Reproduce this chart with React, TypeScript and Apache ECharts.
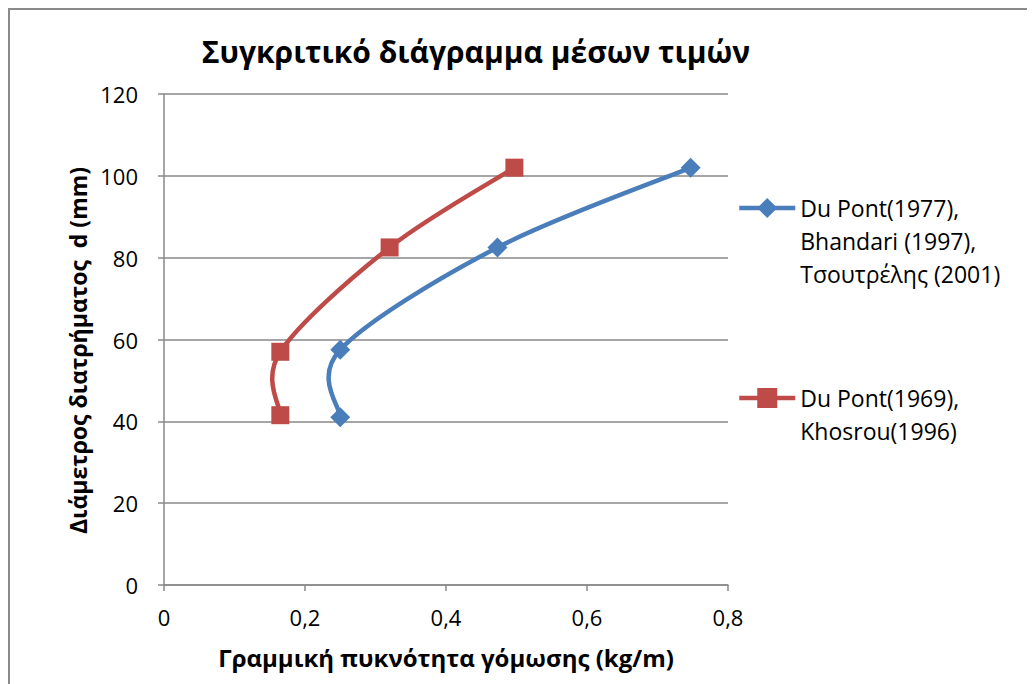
import React, { useEffect, useRef } from "react";
import * as echarts from "echarts";

// Linear charge density (kg/m) against borehole diameter d (mm)
const seriesNames = [
  "Du Pont(1977),\nBhandari (1997),\nΤσουτρέλης (2001)",
  "Du Pont(1969),\nKhosrou(1996)",
];
const blueDensity = [0.25, 0.25, 0.473, 0.747];
const blueDiameter = [41, 57.5, 82.5, 102];
const redDensity = [0.165, 0.165, 0.32, 0.497];
const redDiameter = [41.5, 57, 82.5, 102];

const titleText = "Συγκριτικό διάγραμμα μέσων τιμών";
const xName = "Γραμμική πυκνότητα γόμωσης (kg/m)";
const yName = "Διάμετρος διατρήματος  d (mm)";

const FONT = "'Open Sans', 'Noto Sans', sans-serif";
const BLUE = "#4A7EBB";
const RED = "#BE4B48";
const GRID = "#898989";
const LINE_W = 4.5;

const pairs = (xs: number[], ys: number[]) => xs.map((x, i) => [x, ys[i]]);

// Cardinal (Catmull-Rom) spline through the projected points, drawn as one path.
function splineRenderer(xs: number[], ys: number[], color: string) {
  return (params: any, api: any) => {
    if (params.dataIndex !== 0) return null;
    const pts = xs.map((x, i) => api.coord([x, ys[i]]) as number[]);
    const n = pts.length;
    let d = `M${pts[0][0]},${pts[0][1]}`;
    for (let i = 0; i < n - 1; i++) {
      const p0 = pts[Math.max(i - 1, 0)];
      const p1 = pts[i];
      const p2 = pts[i + 1];
      const p3 = pts[Math.min(i + 2, n - 1)];
      const c1x = p1[0] + (p2[0] - p0[0]) / 6;
      const c1y = p1[1] + (p2[1] - p0[1]) / 6;
      const c2x = p2[0] - (p3[0] - p1[0]) / 6;
      const c2y = p2[1] - (p3[1] - p1[1]) / 6;
      d += ` C${c1x},${c1y} ${c2x},${c2y} ${p2[0]},${p2[1]}`;
    }
    return {
      type: "path",
      shape: { pathData: d },
      style: { stroke: color, lineWidth: LINE_W, fill: "none", lineJoin: "round", lineCap: "round" },
    };
  };
}

const legendText = {
  fontFamily: FONT,
  fontSize: 23,
  color: "#000",
  lineHeight: 33,
};

export default function App() {
  const ref = useRef<HTMLDivElement>(null);

  useEffect(() => {
    if (!ref.current) return;
    const chart = echarts.init(ref.current, undefined, { renderer: "svg" });
    chart.setOption({
      animation: false,
      backgroundColor: "#ffffff",
      title: {
        text: titleText,
        left: 461,
        top: 21,
        textAlign: "center",
        textStyle: { fontFamily: FONT, fontWeight: "bold", fontSize: 30, color: "#000" },
      },
      grid: { left: 154, top: 84, right: 307, bottom: 99 },
      legend: [
        {
          data: [seriesNames[0]],
          orient: "vertical",
          left: 727,
          top: 115.5,
          padding: 0,
          itemWidth: 56,
          itemHeight: 25,
          lineStyle: { color: BLUE, width: LINE_W },
          // two blank lines above keep the first text line level with the icon
          formatter: (name: string) => "\n\n" + name,
          textStyle: legendText,
        },
        {
          data: [seriesNames[1]],
          orient: "vertical",
          left: 727,
          top: 338.5,
          padding: 0,
          itemWidth: 56,
          itemHeight: 25,
          lineStyle: { color: RED, width: LINE_W },
          formatter: (name: string) => "\n" + name,
          textStyle: legendText,
        },
      ],
      xAxis: {
        type: "value",
        min: 0,
        max: 0.8,
        interval: 0.2,
        name: xName,
        nameLocation: "middle",
        nameGap: 60,
        nameTextStyle: { fontFamily: FONT, fontWeight: "bold", fontSize: 24, color: "#000" },
        axisLine: { show: true, lineStyle: { color: GRID, width: 1.5 } },
        axisTick: { show: true, length: 6, lineStyle: { color: GRID, width: 1.5 } },
        axisLabel: {
          margin: 21,
          fontFamily: FONT,
          fontSize: 22,
          color: "#000",
          formatter: (v: number) => String(Math.round(v * 10) / 10).replace(".", ","),
        },
        splitLine: { show: false },
      },
      yAxis: {
        type: "value",
        min: 0,
        max: 120,
        interval: 20,
        name: yName,
        nameLocation: "middle",
        nameGap: 61,
        nameTextStyle: {
          fontFamily: FONT,
          fontWeight: "bold",
          fontSize: 23,
          color: "#000",
          padding: [0, 22, 0, 0],
        },
        axisLine: { show: true, lineStyle: { color: GRID, width: 1.5 } },
        axisTick: { show: true, length: 6, lineStyle: { color: GRID, width: 1.5 } },
        axisLabel: { margin: 26, fontFamily: FONT, fontSize: 22, color: "#000" },
        splitLine: { show: true, lineStyle: { color: GRID, width: 1.5 } },
      },
      series: [
        {
          type: "custom",
          renderItem: splineRenderer(redDensity, redDiameter, RED),
          data: pairs(redDensity, redDiameter),
          encode: { x: 0, y: 1 },
          silent: true,
          z: 1,
        },
        {
          type: "custom",
          renderItem: splineRenderer(blueDensity, blueDiameter, BLUE),
          data: pairs(blueDensity, blueDiameter),
          encode: { x: 0, y: 1 },
          silent: true,
          z: 2,
        },
        {
          name: seriesNames[1],
          type: "line",
          data: pairs(redDensity, redDiameter),
          symbol: "rect",
          symbolSize: 18,
          itemStyle: { color: RED },
          lineStyle: { color: RED, width: 0 },
          z: 3,
        },
        {
          name: seriesNames[0],
          type: "line",
          data: pairs(blueDensity, blueDiameter),
          symbol: "diamond",
          symbolSize: 20,
          itemStyle: { color: BLUE },
          lineStyle: { color: BLUE, width: 0 },
          z: 4,
        },
      ],
    });
    return () => chart.dispose();
  }, []);

  return (
    <div
      style={{
        width: 1027,
        height: 676,
        boxSizing: "border-box",
        borderTop: "2px solid #8a8a8a",
        borderLeft: "2px solid #8a8a8a",
        background: "#fff",
      }}
    >
      <div ref={ref} style={{ width: 1025, height: 674 }} />
    </div>
  );
}
